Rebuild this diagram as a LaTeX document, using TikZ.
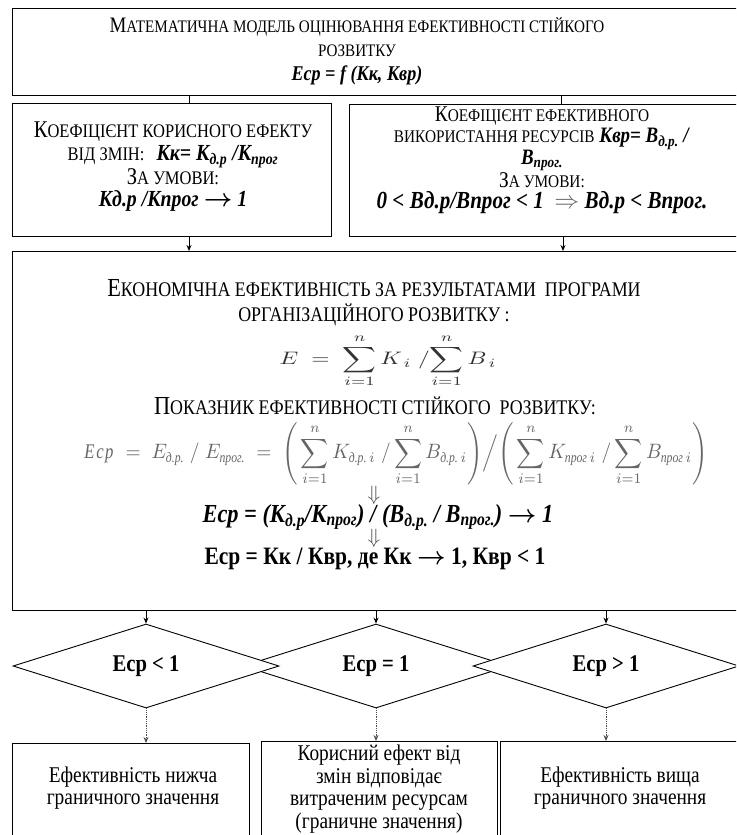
\documentclass[tikz,border=0pt]{standalone}
\usepackage{amsmath}
\usepackage{fontspec}
\setmainfont[FakeStretch=0.86]{Liberation Serif}
\usetikzlibrary{shapes.geometric,arrows.meta}
\newcommand\fs[2]{\fontsize{#1}{#2}\selectfont}
\newcommand\bfit[1]{\textbf{\textit{#1}}}
\newcommand\sub[1]{\textsubscript{#1}}
\newcommand\cyi[1]{\text{\itshape #1}}
\tikzset{
  box/.style={draw, line width=0.9pt, anchor=north west, inner sep=0pt},
  txt/.style={align=center, inner sep=0pt},
  dia/.style={draw, line width=0.9pt, diamond, shape aspect=3.17, inner sep=0pt,
              minimum width=266pt, minimum height=84pt, fill=white,
              font=\fs{24}{28}\bfseries},
  conn/.style={line width=0.9pt},
  arr/.style={line width=0.9pt, -{Stealth[length=6pt,width=5pt]}},
  dotarr/.style={line width=0.8pt, densely dotted, black!70, -{Stealth[length=6pt,width=5pt]}},
  lowtxt/.style={align=center, inner sep=0pt, font=\fs{22.5}{22.5}},
}
\begin{document}
\begin{tikzpicture}[x=1pt,y=-1pt]
\useasboundingbox (0,0) rectangle (736,835);
\clip (0,0) rectangle (736,835);
% boxes
\node[box, minimum width=728pt, minimum height=87pt] (top) at (12,8) {};
\node[box, minimum width=319pt, minimum height=133pt] (b2) at (12,103) {};
\node[box, minimum width=391pt, minimum height=132pt] (b3) at (349,104) {};
\node[box, minimum width=728pt, minimum height=359pt] (big) at (12,251) {};
\node[box, minimum width=237pt, minimum height=110pt] (r1) at (12,743) {};
\node[box, minimum width=236pt, minimum height=112pt] (r2) at (261,741) {};
\node[box, minimum width=240pt, minimum height=112pt] (r3) at (500,741) {};
% diamonds
\node[dia] (d2) at (376,666) {\raisebox{3pt}{Еср = 1}};
\node[dia] (d1) at (146,666) {Еср < 1};
\node[dia] (d3) at (606,666) {Еср > 1};
% x positions for connectors
\coordinate (xa) at (189,0);
\coordinate (xb) at (561,0);
\coordinate (xc) at (563,0);
% top text
\node[txt, font=\fs{22}{24}] (t0) at (357,51) {{\fs{22}{24}М}{\fs{17.6}{24}АТЕМАТИЧНА МОДЕЛЬ ОЦІНЮВАННЯ ЕФЕКТИВНОСТІ СТІЙКОГО}\\
  {\fs{17.6}{24}РОЗВИТКУ}\\ {\fs{21}{24}\bfit{Еср = f (Кк, Квр)}}};
% box 2 text
\node[txt, font=\fs{24}{22.5}] (t2) at (173,167) {{\fs{24}{22.5}К}{\fs{19.2}{22.5}ОЕФІЦІЄНТ КОРИСНОГО ЕФЕКТУ}\\
  {\fs{19.2}{22.5}ВІД ЗМІН:}\enspace {\fs{23}{22.5}\bfit{Кк= К\sub{д.р} /К\sub{прог}}}\\
  {\fs{24}{22.5}З}{\fs{19.2}{22.5}А УМОВИ:}\\
  {\fs{23}{22.5}\bfit{Кд.р /Кпрог $\boldsymbol{\to}$ 1}}};
% box 3 text
\node[txt, font=\fs{22.5}{21}] (t3) at (542,160) {{\fs{22.5}{21}К}{\fs{17.8}{21}ОЕФІЦІЄНТ ЕФЕКТИВНОГО}\\
  {\fs{17.8}{21}ВИКОРИСТАННЯ РЕСУРСІВ} {\fs{22}{21}\bfit{Квр= В\sub{д.р.} /}}\\
  {\fs{22}{21}\bfit{В\sub{прог.}}}\\
  {\fs{22.5}{21}З}{\fs{17.8}{21}А УМОВИ:}\\
  {\fs{24.5}{21}\bfit{0 < Вд.р/Впрог < 1} \ {\color{black!60}$\Rightarrow$} \bfit{Вд.р < Впрог.}}};
% big box text
\node[txt, font=\fs{26}{25}] (h1) at (374,303) {{\fs{26}{25}Е}{\fs{20.8}{25}КОНОМІЧНА ЕФЕКТИВНІСТЬ ЗА РЕЗУЛЬТАТАМИ \ ПРОГРАМИ}\\
  {\fs{20.8}{25}ОРГАНІЗАЦІЙНОГО РОЗВИТКУ :}};
\node[inner sep=0pt, text=black!80] (f1) at (388,361)
  {\resizebox*{217pt}{53pt}{$\displaystyle E \;=\; \sum_{i=1}^{n} K_{\,i} \;/\! \sum_{i=1}^{n} B_{\,i}$}};
\node[txt, font=\fs{26}{25}] (h2) at (375,406) {{\fs{26}{25}П}{\fs{20.8}{25}ОКАЗНИК ЕФЕКТИВНОСТІ СТІЙКОГО \ РОЗВИТКУ:}};
\node[inner sep=0pt, text=black!60] (f2) at (396,454)
  {\resizebox*{623pt}{63pt}{$\displaystyle \mathit{Ecp} \;=\; E_{\cyi{д.р.}} \;/\; E_{\cyi{прог.}} \;=\;
   \left(\,\sum_{i=1}^{n} K_{\cyi{д.р.}\,i} \;/ \sum_{i=1}^{n} B_{\cyi{д.р.}\,i}\right)\!\Big/\!
   \left(\,\sum_{i=1}^{n} K_{\cyi{прог}\,i} \;/ \sum_{i=1}^{n} B_{\cyi{прог}\,i}\right)$}};
\node[inner sep=0pt, font=\fs{22}{24}, text=black!70] (a1) at (374,495) {$\Downarrow$};
\node[txt, font=\fs{26}{26}] (f3) at (378,517) {\bfit{Еср = (К\sub{д.р}/К\sub{прог}) / (В\sub{д.р.} / В\sub{прог.}) $\boldsymbol{\to}$ 1}};
\node[inner sep=0pt, font=\fs{22}{24}, text=black!70] (a2) at (374,538) {$\Downarrow$};
\node[txt, font=\fs{25}{26}] (f4) at (375,559) {\textbf{Еср = Кк / Квр, де Кк $\boldsymbol{\to}$ 1, Квр < 1}};
% bottom texts
\node[lowtxt] (s1) at (133,788) {Ефективність нижча\\ граничного значення};
\node[lowtxt] (s2) at (379,789) {Корисний ефект від\\ змін відповідає\\ витраченим ресурсам\\ (граничне значення)};
\node[lowtxt] (s3) at (620,788) {Ефективність вища\\ граничного значення};
% connectors
\draw[conn] (top.south -| xa) -- (b2.north -| xa);
\draw[conn] (top.south -| xb) -- (b3.north -| xb);
\draw[arr] (b2.south -| xa) -- (big.north -| xa);
\draw[arr] (b3.south -| xc) -- (big.north -| xc);
\draw[arr] (big.south -| d1.north) -- (d1.north);
\draw[arr] (big.south -| d2.north) -- (d2.north);
\draw[arr] (big.south -| d3.north) -- (d3.north);
\draw[dotarr] (d1.south) -- (r1.north -| d1.south);
\draw[dotarr] (d2.south) -- (r2.north -| d2.south);
\draw[dotarr] (d3.south) -- (r3.north -| d3.south);
\end{tikzpicture}
\end{document}
